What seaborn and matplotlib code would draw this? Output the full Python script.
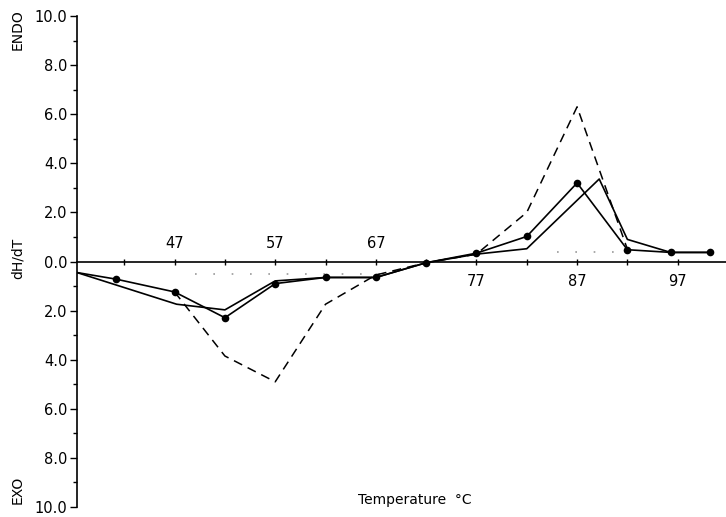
import numpy as np
import pandas as pd
import matplotlib
matplotlib.use("Agg")
import matplotlib.pyplot as plt
import seaborn as sns

# ---- data ----
dots_T = [37.3, 41.2, 47, 52, 57, 62, 67, 72, 77, 82, 87, 92, 96.3, 100.2]
dots_v = [-0.45, -0.72, -1.24, -2.29, -0.9, -0.65, -0.65, -0.05, 0.34, 1.02, 3.2, 0.48, 0.37, 0.37]

solid_T = [37.3, 47.2, 52, 57, 62, 67, 72, 77, 82, 89.2, 92, 96.3, 100.2]
solid_v = [-0.45, -1.74, -1.97, -0.79, -0.65, -0.65, -0.05, 0.3, 0.52, 3.36, 0.9, 0.37, 0.37]

dash_T = [47, 52, 57, 62, 67, 72, 77, 82, 87, 92]
dash_v = [-1.24, -3.85, -4.9, -1.74, -0.55, -0.05, 0.3, 2.0, 6.3, 0.5]

base_T = [49, 68.5, 85, 91]
base_v = [-0.5, -0.5, 0.37, 0.37]
base_seg = [0, 0, 1, 1]

x_labels_above = [47, 57, 67]
x_labels_below = [77, 87, 97]
x_minor = [42, 52, 62, 72, 82, 92]
y_major = [10, 8, 6, 4, 2, 0, -2, -4, -6, -8, -10]
y_labels = ["10.0", "8.0", "6.0", "4.0", "2.0", "0.0", "2.0", "4.0", "6.0", "8.0", "10.0"]

sns.set_theme(style="white")
plt.rcParams['font.family'] = ['DejaVu Sans']
plt.rcParams['text.color'] = 'black'
plt.rcParams['xtick.color'] = 'black'
plt.rcParams['ytick.color'] = 'black'

fig = plt.figure(figsize=(7.26, 5.17), dpi=100)
ax = fig.add_axes([77/726, 1-507/517, 1-77/726, (507-16)/517])

df_dots = pd.DataFrame({"T": dots_T, "v": dots_v})
df_solid = pd.DataFrame({"T": solid_T, "v": solid_v})
df_dash = pd.DataFrame({"T": dash_T, "v": dash_v})
df_base = pd.DataFrame({"T": base_T, "v": base_v, "seg": base_seg})

sns.lineplot(data=df_base, x="T", y="v", units="seg", estimator=None, sort=False,
             ax=ax, color="#999999", lw=1.2, linestyle=(0, (1, 10)))
sns.lineplot(data=df_dash, x="T", y="v", sort=False, ax=ax, color="black",
             lw=1.1, linestyle=(0, (6, 4)))
sns.lineplot(data=df_solid, x="T", y="v", sort=False, ax=ax, color="black", lw=1.2)
sns.lineplot(data=df_dots, x="T", y="v", sort=False, ax=ax, color="black", lw=1.2,
             marker="o", markersize=5.5, markeredgewidth=0,
             markevery=list(range(1, len(dots_T))))

ax.set_xlim(37.3, 101.8)
ax.set_ylim(-10, 10)

for s in ["top", "right"]:
    ax.spines[s].set_visible(False)
ax.spines["bottom"].set_position(("data", 0))
ax.spines["bottom"].set_color("black")
ax.spines["left"].set_color("black")
ax.spines["bottom"].set_linewidth(1.2)
ax.spines["left"].set_linewidth(1.2)

ax.set_xticks(x_labels_above + x_labels_below)
ax.set_xticklabels([])
ax.set_xticks(x_minor, minor=True)
ax.tick_params(axis="x", which="both", direction="inout", length=5, width=1, colors="black",
               bottom=True)

ax.set_yticks(y_major)
ax.set_yticklabels(y_labels, fontsize=10.5, color="black")
ax.set_yticks(np.arange(-9, 10, 2), minor=True)
ax.tick_params(axis="y", which="major", direction="out", length=5, width=1, colors="black",
               left=True, pad=2)
ax.tick_params(axis="y", which="minor", direction="out", length=3, width=1, colors="black",
               left=True)

for t in x_labels_above:
    ax.text(t, 0.72, str(t), ha="center", va="center", fontsize=10.5, color="black")
for t in x_labels_below:
    ax.text(t, -0.8, str(t), ha="center", va="center", fontsize=10.5, color="black")

ax.set_xlabel("")
ax.set_ylabel("")
fig.text(415/726, 1-500/517, "Temperature  °C", ha="center", va="center", fontsize=10, color="black")
fig.text(18/726, 1-30/517, "ENDO", rotation=90, ha="center", va="center", fontsize=10, color="black")
fig.text(18/726, 1-490/517, "EXO", rotation=90, ha="center", va="center", fontsize=10, color="black")
fig.text(18/726, 1-258/517, "dH/dT", rotation=90, ha="center", va="center", fontsize=10, color="black")

fig.savefig("out.png", dpi=100, facecolor="white")
